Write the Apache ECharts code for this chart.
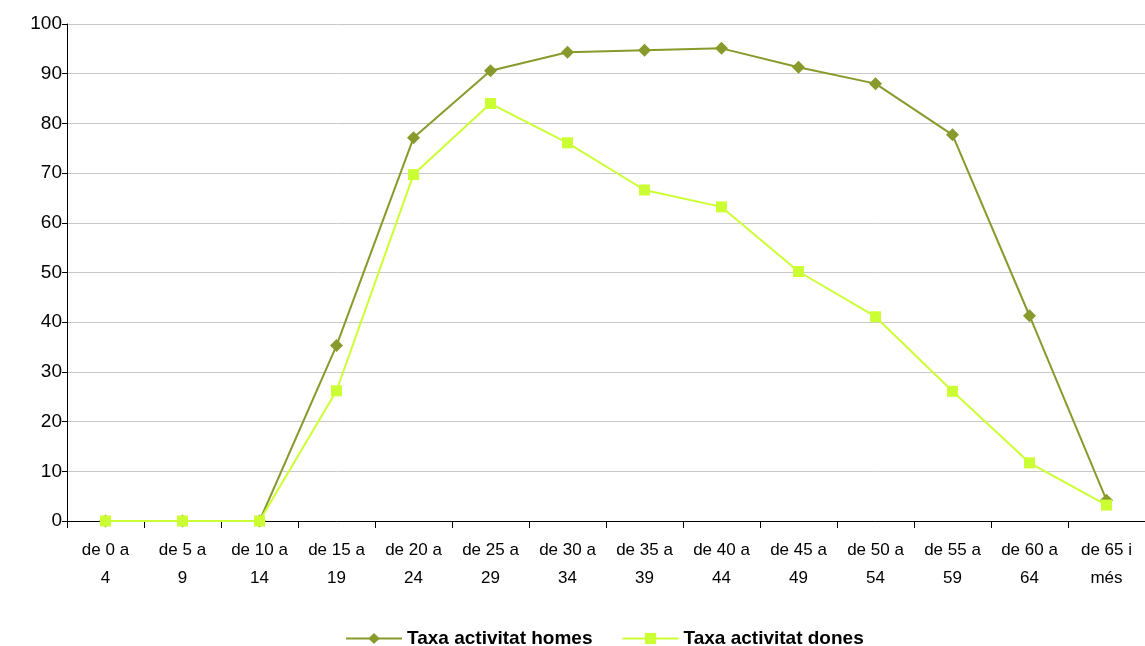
<!DOCTYPE html>
<html>
<head>
<meta charset="utf-8">
<script src="https://cdn.jsdelivr.net/npm/echarts@6/dist/echarts.min.js"></script>
<style>
html,body{margin:0;padding:0;background:#fff;}
#chart{width:1145px;height:646px;}
</style>
</head>
<body>
<div id="chart"></div>
<script>
const categories = ['de 0 a\n4','de 5 a\n9','de 10 a\n14','de 15 a\n19','de 20 a\n24','de 25 a\n29','de 30 a\n34','de 35 a\n39','de 40 a\n44','de 45 a\n49','de 50 a\n54','de 55 a\n59','de 60 a\n64','de 65 i\nmés'];
const homes = [0, 0, 0, 35.3, 77.1, 90.6, 94.3, 94.7, 95.1, 91.3, 88.0, 77.7, 41.3, 4.2];
const dones = [0, 0, 0, 26.2, 69.7, 84.0, 76.1, 66.6, 63.2, 50.2, 41.1, 26.1, 11.7, 3.2];
const yTicks = {min: 0, max: 100, interval: 10};
const names = ['Taxa activitat homes', 'Taxa activitat dones'];

const chart = echarts.init(document.getElementById('chart'), null, {renderer: 'canvas'});
chart.setOption({
  animation: false,
  backgroundColor: '#ffffff',
  textStyle: {fontFamily: 'Liberation Sans, Arial, sans-serif'},
  grid: {left: 67, top: 24, width: 1083, height: 497, containLabel: false},
  legend: {
    top: 624,
    left: 340,
    itemWidth: 56,
    itemHeight: 14,
    itemGap: 29,
    textStyle: {fontSize: 19, fontWeight: 'bold', color: '#000', fontFamily: 'Liberation Sans, Arial, sans-serif'},
    data: names
  },
  xAxis: {
    type: 'category',
    data: categories,
    boundaryGap: true,
    axisLine: {lineStyle: {color: '#000', width: 1}},
    axisTick: {show: true, length: 7, lineStyle: {color: '#000'}},
    axisLabel: {color: '#000', fontSize: 17, lineHeight: 28, margin: 15, interval: 0, fontFamily: 'Liberation Sans, Arial, sans-serif'}
  },
  yAxis: {
    type: 'value',
    min: yTicks.min, max: yTicks.max, interval: yTicks.interval,
    axisLine: {show: true, lineStyle: {color: '#000', width: 1}},
    axisTick: {show: true, length: 5, lineStyle: {color: '#000'}},
    axisLabel: {color: '#000', fontSize: 19, margin: 5, fontFamily: 'Liberation Sans, Arial, sans-serif'},
    splitLine: {show: true, lineStyle: {color: '#c8c8c8', width: 1}}
  },
  series: [
    {
      name: names[0],
      type: 'line',
      data: homes,
      symbol: 'diamond',
      symbolSize: 13,
      color: '#879a2b',
      lineStyle: {color: '#879a2b', width: 2},
      itemStyle: {color: '#879a2b'},
      z: 2
    },
    {
      name: names[1],
      type: 'line',
      data: dones,
      symbol: 'rect',
      symbolSize: 11,
      color: '#ccff33',
      lineStyle: {color: '#ccff33', width: 2},
      itemStyle: {color: '#ccff33'},
      z: 3
    }
  ]
});
</script>
</body>
</html>
